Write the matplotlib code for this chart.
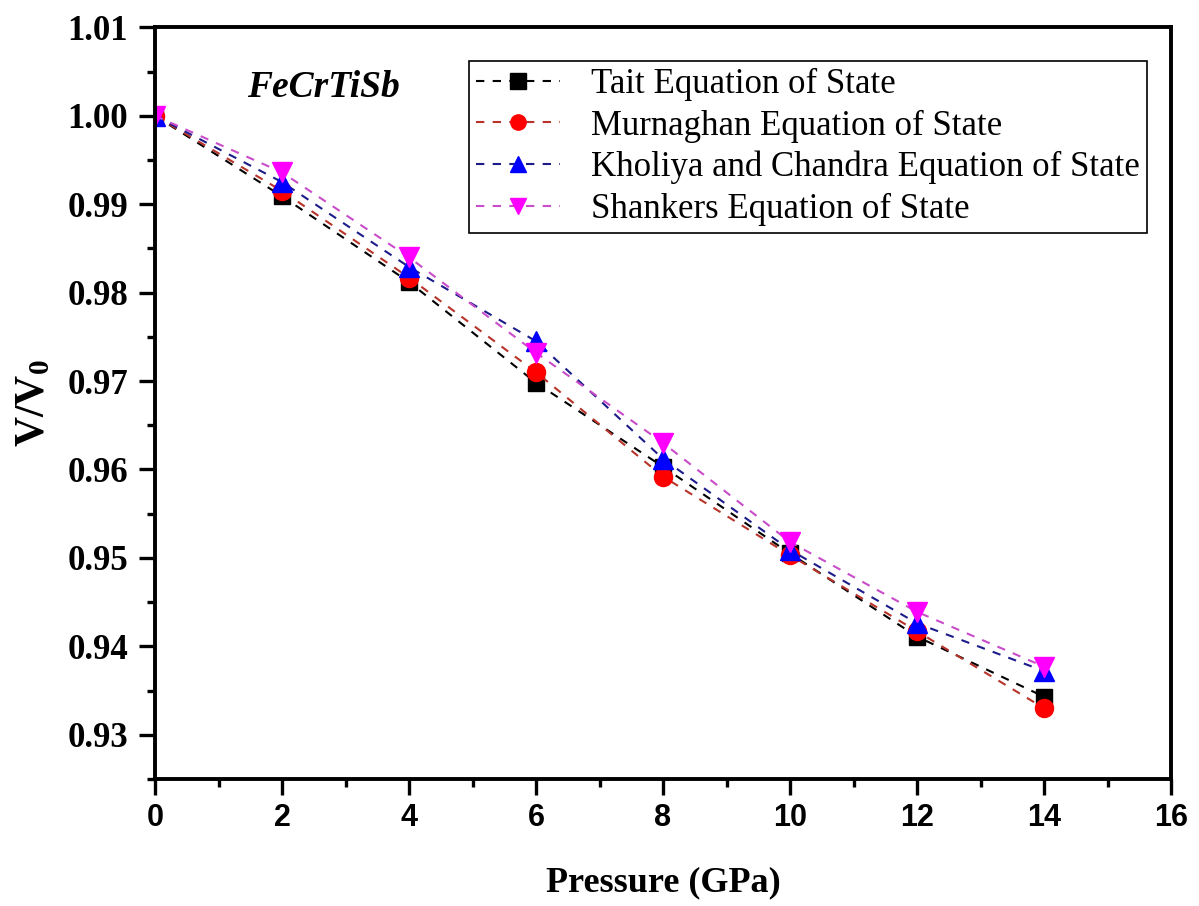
import numpy as np
import matplotlib
matplotlib.use("Agg")
import matplotlib.pyplot as plt
from matplotlib.ticker import MultipleLocator, FormatStrFormatter

# pressure (GPa) and V/V0
pressure = [0, 2, 4, 6, 8, 10, 12, 14]
tait = [1.000, 0.9909, 0.9812, 0.9698, 0.9603, 0.9505, 0.9411, 0.9343]
murnaghan = [1.000, 0.9915, 0.9817, 0.9710, 0.9592, 0.9503, 0.9417, 0.9330]
kholiya = [1.000, 0.9925, 0.9829, 0.9745, 0.9612, 0.9509, 0.9426, 0.9372]
shankers = [1.000, 0.9936, 0.9840, 0.9732, 0.9630, 0.9518, 0.9439, 0.9377]

labels = ["Tait Equation of State",
          "Murnaghan Equation of State",
          "Kholiya and Chandra Equation of State",
          "Shankers Equation of State"]

plt.rcParams['font.family'] = ['Liberation Serif', 'DejaVu Serif']
plt.rcParams['mathtext.fontset'] = 'custom'
plt.rcParams['mathtext.rm'] = 'Liberation Serif'
plt.rcParams['mathtext.bf'] = 'Liberation Serif:bold'

fig = plt.figure(figsize=(11.99, 9.06), dpi=100)
ax = fig.add_axes([0.1293, 0.1402, 0.8474, 0.8296])

series = [
    (tait, '#000000', '#000000', 's', 12),
    (murnaghan, '#b8342a', '#ff0000', 'o', 13),
    (kholiya, '#1c1c8a', '#0000ff', '^', 15),
    (shankers, '#c94cc9', '#ff00ff', 'v', 15),
]
for (vals, lc, mc, mk, ms), lab in zip(series, labels):
    ax.plot(pressure, vals, linestyle=(0, (4, 4)), lw=1.5, color=lc,
            marker=mk, markersize=ms, markerfacecolor=mc, markeredgecolor=mc,
            label=lab)

ax.set_xlim(0, 16)
ax.set_ylim(0.925, 1.01)
ax.xaxis.set_major_locator(MultipleLocator(2))
ax.xaxis.set_minor_locator(MultipleLocator(1))
ax.yaxis.set_major_locator(MultipleLocator(0.01))
ax.yaxis.set_minor_locator(MultipleLocator(0.005))
ax.yaxis.set_major_formatter(FormatStrFormatter('%.2f'))

for s in ax.spines.values():
    s.set_linewidth(2.8)
ax.tick_params(which='major', direction='out', length=11.5, width=2.4,
               top=False, right=False)
ax.tick_params(which='minor', direction='out', length=5.5, width=2.4,
               top=False, right=False)
ax.tick_params(axis='y', which='major', pad=8)
ax.tick_params(axis='x', which='major', pad=6)
for t in ax.get_yticklabels():
    t.set_fontweight('bold')
    t.set_fontsize(25)
for t in ax.get_xticklabels():
    t.set_family(['Liberation Sans', 'DejaVu Sans'])
    t.set_fontweight('bold')
    t.set_fontsize(22)

ax.set_xlabel('Pressure (GPa)', fontsize=26, fontweight='bold', labelpad=24)
ax.set_ylabel(r'$\mathbf{V/V_0}$', fontsize=30, labelpad=10)

ax.text(1.45, 1.0032, 'FeCrTiSb', fontsize=27, fontweight='bold',
        fontstyle='italic', va='center', ha='left')

leg = ax.legend(loc='upper right', bbox_to_anchor=(0.976, 0.955),
                borderaxespad=0, fontsize=25, numpoints=1,
                handlelength=2.4, handletextpad=0.9, labelspacing=0.24,
                borderpad=0.2, fancybox=False, edgecolor='black',
                framealpha=1)
leg.get_frame().set_linewidth(1.2)
for h in leg.legend_handles:
    h.set_markersize(11)

fig.savefig('out.png', dpi=100)
